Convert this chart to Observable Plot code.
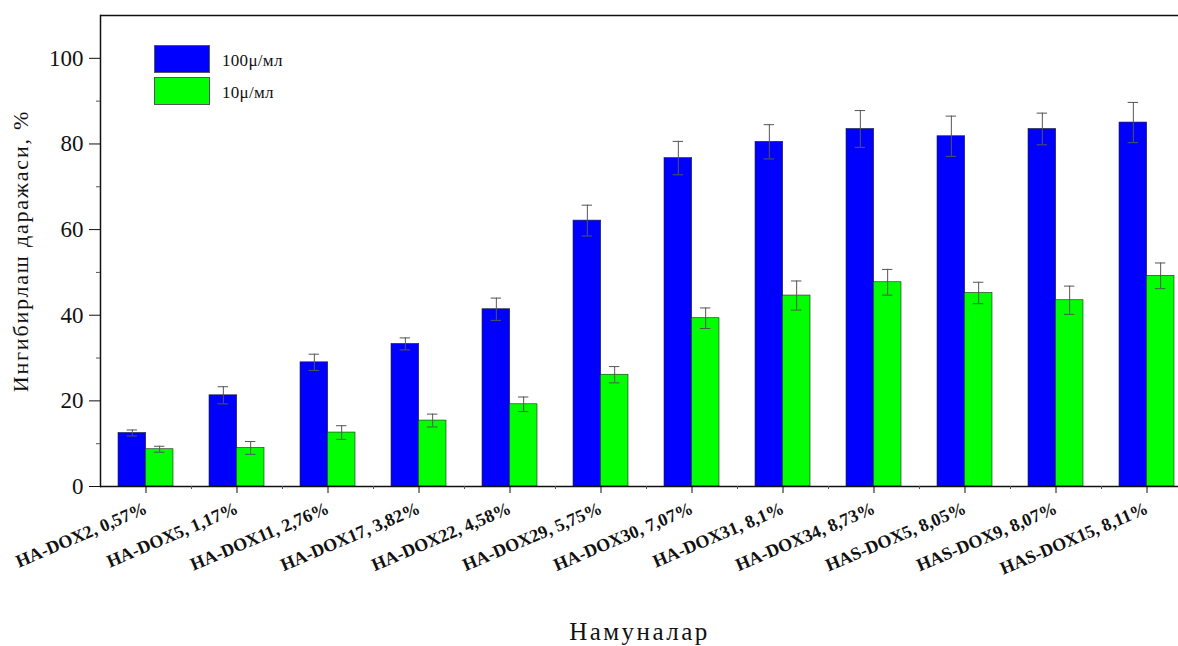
<!DOCTYPE html>
<html>
<head>
<meta charset="utf-8">
<script src="https://cdn.jsdelivr.net/npm/d3@7"></script>
<script src="https://cdn.jsdelivr.net/npm/@observablehq/plot@0.6"></script>
<style>
  body { margin: 0; background: #fff; }
  #chart { position: relative; width: 1178px; height: 646px; overflow: hidden; font-family: "Liberation Serif", "Times New Roman", "DejaVu Serif", serif; }
  #chart svg { overflow: hidden; }
  #chart svg text { font-family: "Liberation Serif", "Times New Roman", "DejaVu Serif", serif !important; }
  .legend { position: absolute; left: 154px; top: 45px; }
  .legend .row { display: flex; align-items: center; height: 28px; margin-bottom: 4px; }
  .legend .sw { width: 56px; height: 28px; box-sizing: border-box; border: 1px solid #555; }
  .legend .lab { margin-left: 12px; font-size: 17px; color: #111; letter-spacing: 0.3px; position: relative; top: 2px; }
</style>
</head>
<body>
<div id="chart"></div>
<script>
// Samples (doxorubicin conjugates with loading %)
const samples = [
  "HA-DOX2, 0,57%", "HA-DOX5, 1,17%", "HA-DOX11, 2,76%", "HA-DOX17, 3,82%",
  "HA-DOX22, 4,58%", "HA-DOX29, 5,75%", "HA-DOX30, 7,07%", "HA-DOX31, 8,1%",
  "HA-DOX34, 8,73%", "HAS-DOX5, 8,05%", "HAS-DOX9, 8,07%", "HAS-DOX15, 8,11%"
];
const seriesNames = ["100μ/мл", "10μ/мл"];

// Inhibition degree, % (mean and error) at each concentration
const inhibitionHigh = [12.5, 21.3, 29.0, 33.3, 41.4, 62.1, 76.7, 80.5, 83.5, 81.8, 83.5, 85.0];
const errorHigh      = [0.7, 2.0, 1.9, 1.4, 2.6, 3.6, 3.9, 4.0, 4.3, 4.7, 3.7, 4.7];
const inhibitionLow  = [8.7, 9.0, 12.6, 15.4, 19.2, 26.1, 39.3, 44.6, 47.7, 45.2, 43.5, 49.2];
const errorLow       = [0.7, 1.5, 1.6, 1.5, 1.7, 1.9, 2.4, 3.4, 3.0, 2.5, 3.3, 3.0];

const yMajorTicks = [0, 20, 40, 60, 80, 100];
const yMinorTicks = [10, 30, 50, 70, 90];
const yLabel = "Ингибирлаш даражаси, %";
const xLabel = "Намуналар";

const seriesColors = ["#0000ff", "#00ff00"];

const highRows = samples.map((s, i) => ({sample: s, series: seriesNames[0], value: inhibitionHigh[i], err: errorHigh[i]}));
const lowRows  = samples.map((s, i) => ({sample: s, series: seriesNames[1], value: inhibitionLow[i], err: errorLow[i]}));

const half = 27.3;      // each bar takes half of the band
const capInset = 22.3;  // error-bar cap width = band - 2*inset

const errStyle = {stroke: "#555", strokeWidth: 1};
const serif = "'Liberation Serif', 'Times New Roman', serif";

const chart = Plot.plot({
  width: 1178,
  height: 646,
  marginTop: 15,
  marginLeft: 100,
  marginRight: 0,
  marginBottom: 160,
  style: {fontFamily: serif, background: "#fff", color: "#111"},
  x: {type: "band", domain: samples, range: [100, 1192], paddingInner: 0.4, paddingOuter: 0.2, label: null},
  y: {domain: [0, 110], label: null},
  color: {domain: seriesNames, range: seriesColors},
  marks: [
    Plot.barY(highRows, {x: "sample", y: "value", fill: "series", insetRight: half, insetLeft: 0, stroke: "#222", strokeWidth: 0.6}),
    Plot.barY(lowRows, {x: "sample", y: "value", fill: "series", insetLeft: half, insetRight: 0, stroke: "#222", strokeWidth: 0.6}),
    // error bars
    Plot.ruleX(highRows, {x: "sample", y1: d => d.value - d.err, y2: d => d.value + d.err, dx: -half / 2, ...errStyle}),
    Plot.ruleX(lowRows, {x: "sample", y1: d => d.value - d.err, y2: d => d.value + d.err, dx: half / 2, ...errStyle}),
    Plot.tickY(highRows, {x: "sample", y: d => d.value + d.err, dx: -half / 2, insetLeft: capInset, insetRight: capInset, ...errStyle}),
    Plot.tickY(highRows, {x: "sample", y: d => d.value - d.err, dx: -half / 2, insetLeft: capInset, insetRight: capInset, ...errStyle}),
    Plot.tickY(lowRows, {x: "sample", y: d => d.value + d.err, dx: half / 2, insetLeft: capInset, insetRight: capInset, ...errStyle}),
    Plot.tickY(lowRows, {x: "sample", y: d => d.value - d.err, dx: half / 2, insetLeft: capInset, insetRight: capInset, ...errStyle}),
    // frame lines: bottom, top, left
    Plot.ruleY([0], {stroke: "#111", strokeWidth: 1.5}),
    Plot.ruleY([110], {stroke: "#111", strokeWidth: 1.5}),
    Plot.frame({anchor: "left", stroke: "#111", strokeWidth: 1.5}),
    // y axis
    Plot.axisY({ticks: yMajorTicks, tickSize: 11, tickPadding: 6, fontSize: 23, fontFamily: serif, label: null, stroke: "#111"}),
    Plot.axisY({ticks: yMinorTicks, tickSize: 4, tickFormat: () => "", label: null, stroke: "#555"}),
    // x axis: major ticks at sample centres, minor ticks between samples
    Plot.axisX({tickSize: 7, tickPadding: 14, tickRotate: -23, fontSize: 18, fontWeight: "bold", fontFamily: serif, label: null}),
    Plot.axisX({tickSize: 3, tickFormat: () => "", dx: 45.5, label: null, stroke: "#555"}),
    // axis titles
    Plot.text([yLabel], {frameAnchor: "left", dx: -80, rotate: -90, textAnchor: "middle", lineAnchor: "middle", fontSize: 22, fontFamily: serif}),
    Plot.text([xLabel], {frameAnchor: "bottom", dy: 145, textAnchor: "middle", lineAnchor: "middle", fontSize: 25, fontFamily: serif})
  ]
});

const host = document.getElementById("chart");
host.appendChild(chart);

// wider tracking on the axis titles
const titles = d3.select(chart).selectAll('g[aria-label="text"] text');
titles.style("letter-spacing", "2.5px");
titles.filter(d => true).each(function () {
  if (this.textContent === yLabel) d3.select(this).style("letter-spacing", "1.8px");
});

// legend for the two concentrations, placed inside the plot area
const color = chart.scale("color");
const legend = document.createElement("div");
legend.className = "legend";
color.domain.forEach((name, i) => {
  const row = document.createElement("div");
  row.className = "row";
  const sw = document.createElement("div");
  sw.className = "sw";
  sw.style.background = color.range[i];
  const lab = document.createElement("span");
  lab.className = "lab";
  lab.textContent = name;
  row.appendChild(sw);
  row.appendChild(lab);
  legend.appendChild(row);
});
host.appendChild(legend);
</script>
</body>
</html>
